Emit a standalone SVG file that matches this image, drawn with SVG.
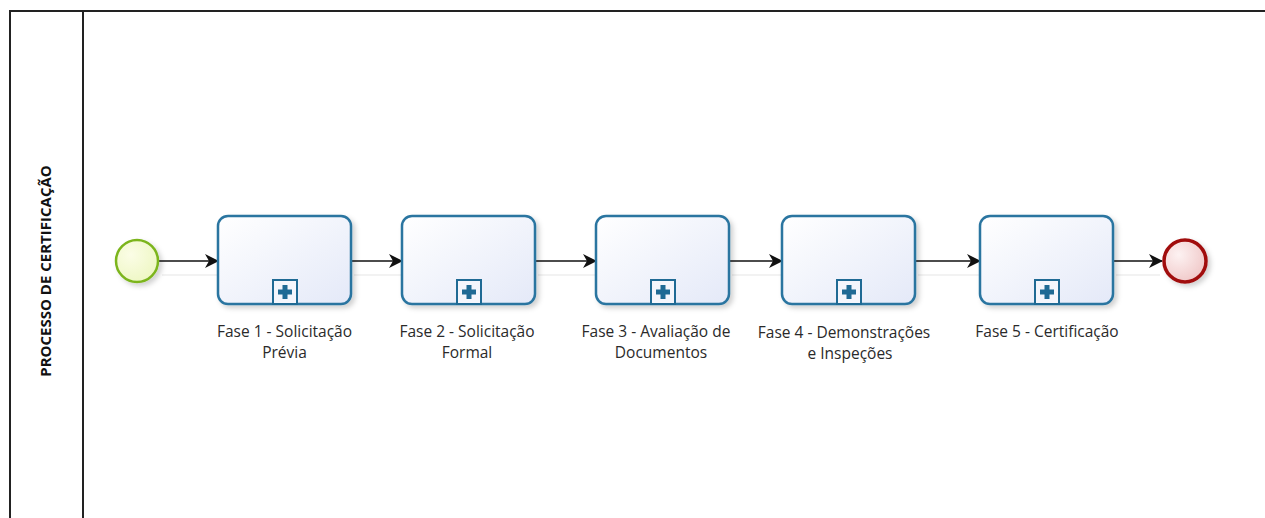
<svg xmlns="http://www.w3.org/2000/svg" width="1265" height="518" viewBox="0 0 1265 518">
<style>
.pool{fill:none;stroke:#222;stroke-width:2}
.task{fill:url(#tg);stroke:#2a74a0;stroke-width:2.5}
.mk{fill:#f4f6fc;stroke:#1f6a94;stroke-width:2}
.plus{fill:#1f6a94}
.lbl{font-family:"Open Sans","Noto Sans",sans-serif;font-size:15.5px;fill:#2a2a2a;text-anchor:middle}
.flow{stroke:#111;stroke-width:1.3;fill:none;marker-end:url(#arr)}
.shadowline{stroke:#eeeeee;stroke-width:1.5}
</style>
<defs>
<linearGradient id="tg" x1="0" y1="0" x2="1" y2="1">
<stop offset="0" stop-color="#ffffff"/>
<stop offset="1" stop-color="#e4e9f8"/>
</linearGradient>
<radialGradient id="sg" cx="0.35" cy="0.35" r="0.7">
<stop offset="0" stop-color="#fbfde6"/>
<stop offset="1" stop-color="#eef7c4"/>
</radialGradient>
<radialGradient id="eg" cx="0.35" cy="0.35" r="0.7">
<stop offset="0" stop-color="#fdf2f2"/>
<stop offset="1" stop-color="#f0c8c8"/>
</radialGradient>
<filter id="sh" x="-20%" y="-20%" width="150%" height="150%">
<feDropShadow dx="3" dy="3" stdDeviation="2.5" flood-color="#000" flood-opacity="0.18"/>
</filter>
<marker id="arr" viewBox="0 0 14 14" refX="13" refY="7" markerWidth="14" markerHeight="14" markerUnits="userSpaceOnUse" orient="auto">
<path d="M0,0 L14,7 L0,14 L4,7 Z" fill="#111"/>
</marker>
</defs>
<g id="pool">
<path class="pool" d="M10,518 V11 H1265"/>
<line class="pool" x1="83" y1="11" x2="83" y2="518"/>
<text x="46" y="271" dy="5" transform="rotate(-90 46 271)" font-family="'Open Sans','Noto Sans',sans-serif" font-weight="bold" font-size="15" text-anchor="middle" fill="#111">PROCESSO DE CERTIFICAÇÃO</text>
</g>
<g id="connectors">
<line class="shadowline" x1="162" y1="275" x2="218" y2="275"/>
<line class="shadowline" x1="354" y1="275" x2="402" y2="275"/>
<line class="shadowline" x1="538" y1="275" x2="596" y2="275"/>
<line class="shadowline" x1="732" y1="275" x2="782" y2="275"/>
<line class="shadowline" x1="918" y1="275" x2="980" y2="275"/>
<line class="shadowline" x1="1116" y1="275" x2="1160" y2="275"/>
<line class="flow" x1="159" y1="261" x2="218" y2="261"/>
<line class="flow" x1="351" y1="261" x2="402" y2="261"/>
<line class="flow" x1="535" y1="261" x2="596" y2="261"/>
<line class="flow" x1="729" y1="261" x2="782" y2="261"/>
<line class="flow" x1="915" y1="261" x2="980" y2="261"/>
<line class="flow" x1="1113" y1="261" x2="1162" y2="261"/>
</g>
<g id="start">
<circle cx="137" cy="261" r="21" fill="url(#sg)" stroke="#7cb51f" stroke-width="2.5" filter="url(#sh)"/>
</g>
<g id="task1">
<rect class="task" x="218" y="216" width="133" height="88" rx="10" filter="url(#sh)"/>
<rect class="mk" x="273" y="280" width="24" height="24"/>
<path class="plus" d="M282.5,285 h5 v4.5 h4.5 v5 h-4.5 v4.5 h-5 v-4.5 h-4.5 v-5 h4.5 z"/>
<text class="lbl" x="284.5" y="337">Fase 1 - Solicitação</text>
<text class="lbl" x="284.5" y="358">Prévia</text>
</g>
<g id="task2">
<rect class="task" x="402" y="216" width="133" height="88" rx="10" filter="url(#sh)"/>
<rect class="mk" x="457" y="280" width="24" height="24"/>
<path class="plus" d="M466.5,285 h5 v4.5 h4.5 v5 h-4.5 v4.5 h-5 v-4.5 h-4.5 v-5 h4.5 z"/>
<text class="lbl" x="467" y="337">Fase 2 - Solicitação</text>
<text class="lbl" x="467" y="358">Formal</text>
</g>
<g id="task3">
<rect class="task" x="596" y="216" width="133" height="88" rx="10" filter="url(#sh)"/>
<rect class="mk" x="651" y="280" width="24" height="24"/>
<path class="plus" d="M660.5,285 h5 v4.5 h4.5 v5 h-4.5 v4.5 h-5 v-4.5 h-4.5 v-5 h4.5 z"/>
<text class="lbl" x="656" y="337">Fase 3 - Avaliação de</text>
<text class="lbl" x="661" y="358">Documentos</text>
</g>
<g id="task4">
<rect class="task" x="782" y="216" width="133" height="88" rx="10" filter="url(#sh)"/>
<rect class="mk" x="837" y="280" width="24" height="24"/>
<path class="plus" d="M846.5,285 h5 v4.5 h4.5 v5 h-4.5 v4.5 h-5 v-4.5 h-4.5 v-5 h4.5 z"/>
<text class="lbl" x="844" y="338">Fase 4 - Demonstrações</text>
<text class="lbl" x="850" y="359">e Inspeções</text>
</g>
<g id="task5">
<rect class="task" x="980" y="216" width="133" height="88" rx="10" filter="url(#sh)"/>
<rect class="mk" x="1035" y="280" width="24" height="24"/>
<path class="plus" d="M1044.5,285 h5 v4.5 h4.5 v5 h-4.5 v4.5 h-5 v-4.5 h-4.5 v-5 h4.5 z"/>
<text class="lbl" x="1047" y="337">Fase 5 - Certificação</text>
</g>
<g id="end">
<circle cx="1185" cy="261" r="21" fill="url(#eg)" stroke="#a10f0f" stroke-width="3.5" filter="url(#sh)"/>
</g>
</svg>
